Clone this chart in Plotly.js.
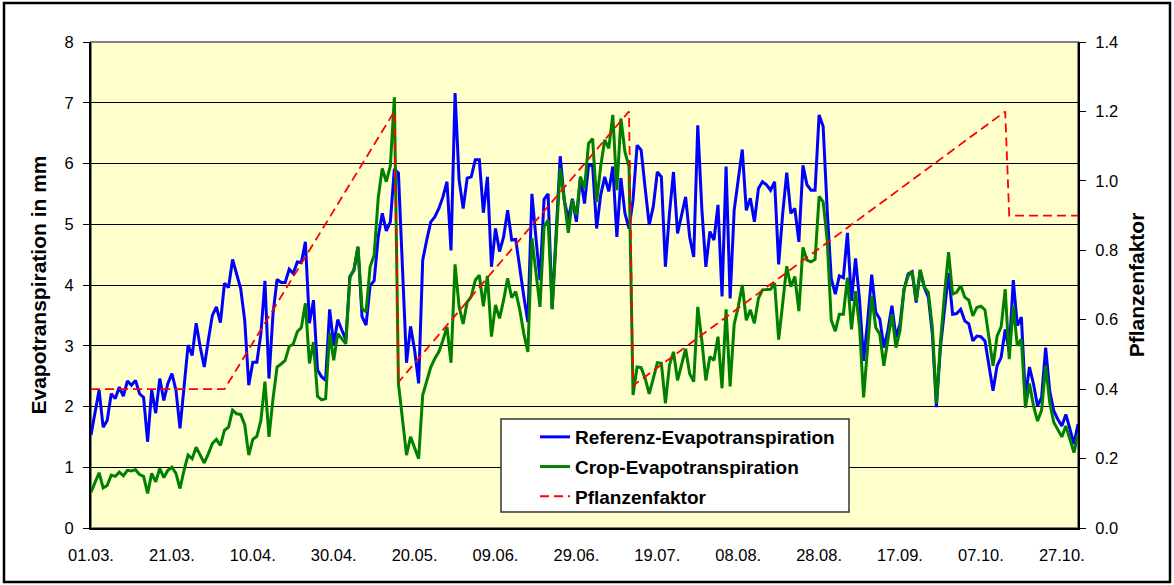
<!DOCTYPE html>
<html>
<head>
<meta charset="utf-8">
<script src="https://cdn.plot.ly/plotly-3.0.1.min.js"></script>
<style>
  html, body { margin: 0; padding: 0; background: #fff; }
  #chart { width: 1174px; height: 585px; }
</style>
</head>
<body>
<div id="chart"></div>
<script>
// ---- Data (daily values, 01.03. - 31.10.) ----
const startDate = '2009-03-01';

const refET = [
  1.53, 1.88, 2.27, 1.66, 1.77, 2.21, 2.13, 2.32, 2.17, 2.42,
  2.35, 2.43, 2.21, 2.15, 1.42, 2.27, 1.89, 2.46, 2.10, 2.38,
  2.54, 2.27, 1.64, 2.32, 3.01, 2.84, 3.37, 2.98, 2.65, 3.09,
  3.50, 3.64, 3.38, 4.03, 3.96, 4.42, 4.19, 3.94, 3.42, 2.35,
  2.73, 2.73, 3.20, 4.07, 2.46, 3.53, 4.09, 4.04, 4.04, 4.26,
  4.19, 4.38, 4.37, 4.71, 3.37, 3.75, 2.60, 2.49, 2.43, 3.60,
  3.01, 3.43, 3.26, 3.10, 4.14, 4.24, 4.63, 3.48, 3.34, 3.99,
  4.07, 4.79, 5.18, 4.89, 5.04, 5.91, 5.84, 4.30, 2.72, 3.32,
  2.93, 2.38, 4.41, 4.74, 5.04, 5.12, 5.26, 5.45, 5.70, 4.57,
  7.16, 5.73, 5.26, 5.76, 5.78, 6.06, 6.06, 5.19, 5.78, 4.30,
  4.93, 4.55, 4.79, 5.23, 4.74, 4.75, 4.24, 3.81, 3.39, 5.50,
  4.77, 4.08, 5.41, 5.50, 3.61, 4.90, 6.12, 5.40, 5.08, 5.42,
  5.04, 5.78, 5.34, 5.97, 5.97, 4.93, 5.48, 5.78, 5.54, 5.95,
  4.79, 5.76, 5.18, 4.93, 5.40, 6.30, 6.22, 5.59, 4.99, 5.29,
  5.86, 5.78, 4.30, 5.18, 5.86, 4.85, 5.18, 5.45, 4.79, 4.46,
  6.63, 5.26, 4.30, 4.88, 4.74, 5.32, 3.81, 5.95, 3.78, 5.23,
  5.73, 6.23, 5.23, 5.43, 5.04, 5.59, 5.70, 5.65, 5.56, 5.70,
  4.34, 5.18, 5.85, 5.18, 5.26, 4.71, 5.97, 5.65, 5.56, 5.56,
  6.80, 6.61, 5.23, 4.11, 3.85, 4.15, 4.12, 4.86, 3.74, 4.44,
  3.75, 2.75, 3.41, 4.17, 3.55, 3.44, 2.97, 3.25, 3.66, 3.14,
  3.36, 3.93, 4.18, 4.22, 3.71, 4.24, 3.96, 3.80, 3.19, 1.99,
  2.98, 3.59, 4.20, 3.52, 3.53, 3.60, 3.41, 3.36, 3.08, 3.16,
  3.15, 3.08, 2.70, 2.26, 2.67, 2.81, 3.27, 2.90, 4.08, 3.33,
  3.47, 2.15, 2.65, 2.37, 2.01, 2.15, 2.97, 2.26, 1.93, 1.79,
  1.68, 1.87, 1.63, 1.38, 1.71
];

const cropET = [
  0.59, 0.76, 0.91, 0.66, 0.70, 0.87, 0.85, 0.92, 0.86, 0.95,
  0.94, 0.96, 0.88, 0.85, 0.57, 0.90, 0.76, 0.98, 0.83, 0.95,
  1.00, 0.90, 0.65, 0.95, 1.20, 1.14, 1.33, 1.20, 1.07, 1.22,
  1.39, 1.46, 1.36, 1.61, 1.66, 1.94, 1.88, 1.87, 1.70, 1.20,
  1.46, 1.51, 1.77, 2.41, 1.50, 2.13, 2.65, 2.70, 2.76, 2.99,
  3.03, 3.23, 3.30, 3.70, 2.71, 3.06, 2.17, 2.11, 2.13, 3.21,
  2.76, 3.20, 3.12, 3.03, 4.12, 4.26, 4.63, 3.61, 3.56, 4.30,
  4.49, 5.43, 5.92, 5.70, 5.96, 7.09, 2.38, 1.80, 1.20, 1.50,
  1.33, 1.14, 2.19, 2.43, 2.65, 2.79, 2.90, 3.09, 3.31, 2.72,
  4.34, 3.64, 3.36, 3.72, 3.81, 4.08, 4.16, 3.65, 4.15, 3.15,
  3.67, 3.45, 3.75, 4.11, 3.79, 3.89, 3.59, 3.20, 2.90, 4.77,
  4.19, 3.64, 4.96, 5.07, 3.60, 4.79, 5.92, 5.40, 4.86, 5.40,
  5.15, 5.78, 5.59, 6.33, 6.41, 5.37, 5.95, 6.39, 6.25, 6.80,
  5.56, 6.74, 6.19, 5.95, 2.19, 2.65, 2.64, 2.46, 2.21, 2.46,
  2.72, 2.71, 2.05, 2.68, 2.90, 2.43, 2.68, 2.95, 2.54, 2.41,
  3.64, 3.09, 2.43, 2.82, 2.76, 3.15, 2.30, 3.60, 2.33, 3.35,
  3.64, 4.00, 3.42, 3.59, 3.37, 3.78, 3.92, 3.93, 3.93, 4.03,
  3.10, 3.70, 4.31, 3.97, 4.14, 3.57, 4.62, 4.41, 4.38, 4.42,
  5.46, 5.37, 4.74, 3.42, 3.24, 3.52, 3.52, 4.12, 3.27, 3.90,
  3.30, 2.15, 2.92, 3.82, 3.30, 3.19, 2.67, 3.08, 3.52, 2.97,
  3.25, 3.93, 4.15, 4.22, 3.74, 4.25, 3.97, 3.88, 3.30, 2.05,
  3.06, 3.85, 4.54, 3.85, 3.88, 3.99, 3.80, 3.75, 3.49, 3.63,
  3.65, 3.59, 3.11, 2.67, 3.16, 3.31, 3.93, 2.78, 3.66, 3.00,
  3.11, 1.98, 2.38, 2.01, 1.76, 1.94, 2.67, 2.07, 1.74, 1.63,
  1.50, 1.68, 1.44, 1.24, 1.54
];

// Pflanzenfaktor (crop coefficient): break points of the piecewise-linear curve
const kcDates  = ['2009-03-01', '2009-04-03', '2009-05-15', '2009-05-16', '2009-07-12',
                  '2009-07-13', '2009-10-13', '2009-10-14', '2009-10-31'];
const kcValues = [0.40, 0.40, 1.20, 0.42, 1.20, 0.41, 1.20, 0.90, 0.90];

const seriesNames = ['Referenz-Evapotranspiration', 'Crop-Evapotranspiration', 'Pflanzenfaktor'];
const yTitle  = 'Evapotranspiration in mm';
const y2Title = 'Pflanzenfaktor';

// day categories
function dayString(i) {
  const p = startDate.split('-').map(Number);
  const d = new Date(Date.UTC(p[0], p[1] - 1, p[2] + i));
  return d.toISOString().slice(0, 10);
}
const days = refET.map((_, i) => dayString(i));

const FONT = 'Arial, "Liberation Sans", sans-serif';

const traces = [
  { x: days, y: refET, type: 'scatter', mode: 'lines', name: seriesNames[0],
    line: { color: '#0000FF', width: 3 }, legendgroup: 'a', hoverinfo: 'x+y' },
  { x: days, y: cropET, type: 'scatter', mode: 'lines', name: seriesNames[1],
    line: { color: '#008000', width: 3 }, legendgroup: 'b', hoverinfo: 'x+y' },
  { x: kcDates, y: kcValues, type: 'scatter', mode: 'lines', name: seriesNames[2], yaxis: 'y2',
    line: { color: '#FF0000', width: 1.8, dash: '9px,5px' }, legendgroup: 'c', hoverinfo: 'x+y' }
];

// pixel -> paper helpers (plot area 91..1078 x 42..528)
const L = 91, R = 96, T = 42, B = 57, W = 1174, H = 585;
const pw = W - L - R, ph = H - T - B;
const px = X => (X - L) / pw;
const py = Y => (H - B - Y) / ph;

const layout = {
  width: W, height: H,
  margin: { l: L, r: R, t: T, b: B, pad: 0 },
  paper_bgcolor: '#FFFFFF',
  plot_bgcolor: '#FFFFCC',
  font: { family: FONT, size: 16, color: '#000' },
  showlegend: true,
  xaxis: {
    type: 'date',
    range: [days[0], days[days.length - 1]],
    tick0: startDate, dtick: 20 * 86400000, tickformat: '%d.%m.',
    showgrid: false, zeroline: false,
    showline: true, linecolor: '#000', linewidth: 2,
    ticks: '', ticklabelstandoff: 11,
    tickfont: { family: FONT, size: 16.5 }
  },
  yaxis: {
    range: [0, 8], tick0: 0, dtick: 1,
    showgrid: true, gridcolor: '#000', gridwidth: 1, zeroline: false,
    showline: true, linecolor: '#000', linewidth: 2,
    ticks: 'outside', ticklen: 6, tickcolor: '#000', tickwidth: 1,
    ticklabelstandoff: 6,
    tickfont: { family: FONT, size: 16.5 },
    title: { text: yTitle, font: { family: FONT, size: 21, weight: 'bold' }, standoff: 12 }
  },
  yaxis2: {
    overlaying: 'y', side: 'right',
    range: [0, 1.4], tick0: 0, dtick: 0.2, tickformat: '.1f',
    showgrid: false, zeroline: false,
    showline: true, linecolor: '#000', linewidth: 2,
    ticks: 'outside', ticklen: 6, tickcolor: '#000', tickwidth: 1,
    ticklabelstandoff: 6,
    tickfont: { family: FONT, size: 16.5 },
    title: { text: y2Title, font: { family: FONT, size: 21, weight: 'bold' }, standoff: 12 }
  },
  legend: {
    x: px(535), xanchor: 'left',
    y: py(418), yanchor: 'top',
    bgcolor: 'rgba(0,0,0,0)', borderwidth: 0,
    traceorder: 'grouped', tracegroupgap: 2,
    font: { family: FONT, size: 19, weight: 'bold', color: '#000' }
  },
  shapes: [
    // plot area frame (top edge grey)
    { type: 'rect', xref: 'paper', yref: 'paper', x0: 0, x1: 1, y0: 0, y1: 1,
      line: { color: '#808080', width: 2 }, layer: 'below' },
    // legend box
    { type: 'rect', xref: 'paper', yref: 'paper', x0: px(501), x1: px(849), y0: py(512), y1: py(419),
      fillcolor: '#FFFFFF', line: { color: '#333333', width: 1.5 }, layer: 'above' },
    // outer chart frame
    { type: 'rect', xref: 'paper', yref: 'paper', x0: px(4), x1: px(1170), y0: py(582), y1: py(3),
      line: { color: '#000000', width: 2.5 }, layer: 'above' }
  ]
};

Plotly.newPlot('chart', traces, layout, { staticPlot: true, displayModeBar: false });
</script>
</body>
</html>
